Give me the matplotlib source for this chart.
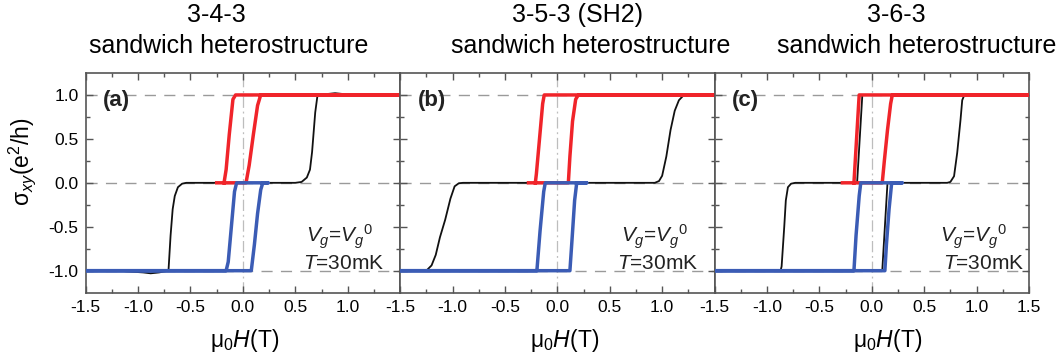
import numpy as np
import matplotlib
matplotlib.use('Agg')
import matplotlib.pyplot as plt
from matplotlib.ticker import MultipleLocator, FixedLocator

plt.rcParams.update({'font.family': 'Liberation Sans',
                     'mathtext.fontset': 'custom',
                     'mathtext.rm': 'Liberation Sans',
                     'mathtext.it': 'Liberation Sans:italic',
                     'mathtext.bf': 'Liberation Sans:bold'})

# panel titles / letters
title_top = ['3-4-3', '3-5-3 (SH2)', '3-6-3']
title_bottom = ['sandwich heterostructure'] * 3
letters = ['(a)', '(b)', '(c)']

# --- panel (a) ---
a_black_h = [-1.5, -1.2, -0.95, -0.88, -0.80, -0.71, -0.69, -0.67, -0.65, -0.62, -0.58, -0.54,
             0.50, 0.56, 0.61, 0.64, 0.66, 0.672, 0.69, 0.71, 0.73, 0.80, 0.88, 0.96, 1.05, 1.5]
a_black_s = [-1.0, -1.0, -1.02, -1.03, -1.02, -1.0, -0.6, -0.3, -0.15, -0.05, -0.01, 0.0,
             0.0, 0.01, 0.06, 0.15, 0.35, 0.53, 0.8, 0.98, 1.0, 1.01, 1.02, 1.01, 1.0, 1.0]
a_red_h = [-0.25, 0.03, 0.06, 0.10, 0.14, 0.17, 1.5, -0.07, -0.095, -0.13, -0.16, -0.18]
a_red_s = [0.0, 0.0, 0.2, 0.55, 0.88, 1.0, 1.0, 1.0, 0.95, 0.55, 0.15, 0.0]
a_blue_h = [-1.5, 0.08, 0.11, 0.14, 0.17, 0.19, 0.24, -0.06, -0.08, -0.11, -0.14, -0.16, -1.5]
a_blue_s = [-1.0, -1.0, -0.7, -0.35, -0.08, 0.0, 0.0, 0.0, -0.1, -0.5, -0.9, -1.0, -1.0]

# --- panel (b) ---
b_black_h = [-1.5, -1.25, -1.20, -1.16, -1.12, -1.07, -1.02, -0.98, -0.94, -0.90,
             0.93, 0.97, 1.0, 1.04, 1.08, 1.12, 1.16, 1.20, 1.24, 1.5]
b_black_s = [-1.0, -1.0, -0.94, -0.82, -0.62, -0.42, -0.18, -0.04, -0.005, 0.0,
             0.0, 0.02, 0.08, 0.3, 0.6, 0.82, 0.94, 0.99, 1.0, 1.0]
b_red_h = [-0.275, 0.105, 0.12, 0.145, 0.175, 0.20, 1.5, -0.125, -0.14, -0.17, -0.20, -0.21]
b_red_s = [0.0, 0.0, 0.3, 0.7, 0.95, 1.0, 1.0, 1.0, 0.9, 0.5, 0.1, 0.0]
b_blue_h = [-1.5, 0.12, 0.14, 0.165, 0.185, 0.28, -0.115, -0.13, -0.165, -0.195, -1.5]
b_blue_s = [-1.0, -1.0, -0.65, -0.2, 0.0, 0.0, 0.0, -0.1, -0.55, -1.0, -1.0]

# --- panel (c) ---
c_black_h = [-1.5, -0.87, -0.86, -0.835, -0.82, -0.80, -0.77, -0.73,
             0.72, 0.75, 0.785, 0.815, 0.847, 0.863, 0.88, 0.90, 1.5]
c_black_s = [-1.0, -1.0, -0.95, -0.5, -0.2, -0.05, -0.01, 0.0,
             0.0, 0.01, 0.075, 0.34, 0.72, 0.94, 0.99, 1.0, 1.0]
c_black2_h = [-0.14, -0.09, np.nan, 0.10, 0.15]
c_black2_s = [0.0, 1.0, np.nan, -1.0, 0.0]
c_red_h = [-0.28, 0.10, 0.12, 0.15, 0.18, 0.196, 1.5, -0.12, -0.13, -0.15, -0.17]
c_red_s = [0.0, 0.0, 0.25, 0.6, 0.9, 1.0, 1.0, 1.0, 0.8, 0.4, 0.0]
c_blue_h = [-1.5, 0.125, 0.14, 0.165, 0.19, 0.29, -0.105, -0.12, -0.15, -0.17, -1.5]
c_blue_s = [-1.0, -1.0, -0.7, -0.3, 0.0, 0.0, 0.0, -0.15, -0.6, -1.0, -1.0]

black_sets = [[(a_black_h, a_black_s)],
              [(b_black_h, b_black_s)],
              [(c_black_h, c_black_s), (c_black2_h, c_black2_s)]]
red_sets = [(a_red_h, a_red_s), (b_red_h, b_red_s), (c_red_h, c_red_s)]
blue_sets = [(a_blue_h, a_blue_s), (b_blue_h, b_blue_s), (c_blue_h, c_blue_s)]

x_major = [-1.5, -1.0, -0.5, 0.0, 0.5, 1.0, 1.5]
y_major = [-1.0, -0.5, 0.0, 0.5, 1.0]

red_col = '#f0242a'
blue_col = '#3b5cb5'
spine_col = '#555555'
grid_col = '#9a9a9a'

fig = plt.figure(figsize=(10.63, 3.64), dpi=100)
gs = fig.add_gridspec(1, 3, left=0.0806, right=0.968, bottom=0.196, top=0.7995, wspace=0)
axes = [fig.add_subplot(gs[i]) for i in range(3)]

# text anchors (right ends) in axes fraction
vg_right = [0.915, 0.917, 0.93]
t_right = [0.95, 0.947, 0.985]

for i, ax in enumerate(axes):
    for v in (-1.0, 0.0, 1.0):
        ax.axhline(v, color=grid_col, lw=1.0, ls=(0, (8, 6)), zorder=1)
    ax.axvline(0.0, color='#bdbdbd', lw=0.9, ls=(0, (9, 3, 1.5, 3)), zorder=1)

    for h, s in black_sets[i]:
        ax.plot(h, s, color='#111111', lw=1.3, zorder=2)
    ax.plot(red_sets[i][0], red_sets[i][1], color=red_col, lw=2.5, zorder=3,
            solid_joinstyle='round')
    ax.plot(blue_sets[i][0], blue_sets[i][1], color=blue_col, lw=2.5, zorder=4,
            solid_joinstyle='round')

    ax.set_xlim(-1.5, 1.5)
    ax.set_ylim(-1.25, 1.25)
    ax.xaxis.set_major_locator(FixedLocator(x_major))
    ax.xaxis.set_minor_locator(MultipleLocator(0.25))
    ax.yaxis.set_major_locator(FixedLocator(y_major))
    ax.yaxis.set_minor_locator(FixedLocator([-0.75, -0.25, 0.25, 0.75]))
    xl = ['%.1f' % v for v in x_major]
    if i < 2:
        xl[-1] = ''
    ax.set_xticklabels(xl)
    if i == 0:
        ax.set_yticklabels(['%.1f' % v for v in y_major])
    else:
        ax.set_yticklabels([])

    ax.tick_params(which='both', direction='in', top=True, right=True,
                   color=spine_col, width=1.0, labelsize=12.5, pad=5)
    ax.tick_params(which='major', length=5)
    ax.tick_params(which='minor', length=3)
    for sp in ax.spines.values():
        sp.set_color(spine_col)
        sp.set_linewidth(1.2)

    ax.text(0.055, 0.877, letters[i], transform=ax.transAxes, fontsize=16,
            fontweight='bold', va='center', ha='left', color='#222222')
    ax.text(vg_right[i], 0.254, r'$V_g$=${V_g}^0$', transform=ax.transAxes,
            fontsize=15, va='center', ha='right', color='#222222')
    ax.text(t_right[i], 0.131, r'$T$=30mK', transform=ax.transAxes,
            fontsize=15, va='center', ha='right', color='#222222')

# titles
top_x = [216, 578, 896]
bot_x = [229, 591, 917]
for i in range(3):
    fig.text(top_x[i] / 1063, 1 - 22 / 364, title_top[i], ha='center', va='baseline',
             fontsize=18)
    fig.text(bot_x[i] / 1063, 1 - 53 / 364, title_bottom[i], ha='center', va='baseline',
             fontsize=18)

# axis labels
for cx in [245, 565, 888]:
    fig.text(cx / 1063, 1 - 340 / 364, r'μ$_0$$H$(T)', ha='center', va='center', fontsize=16.5)
fig.text(22 / 1063, 1 - 162 / 364, r'σ$_{xy}$(e$^2$/h)', rotation=90,
         ha='center', va='center', fontsize=16.5)

fig.savefig('out.png', dpi=100)
